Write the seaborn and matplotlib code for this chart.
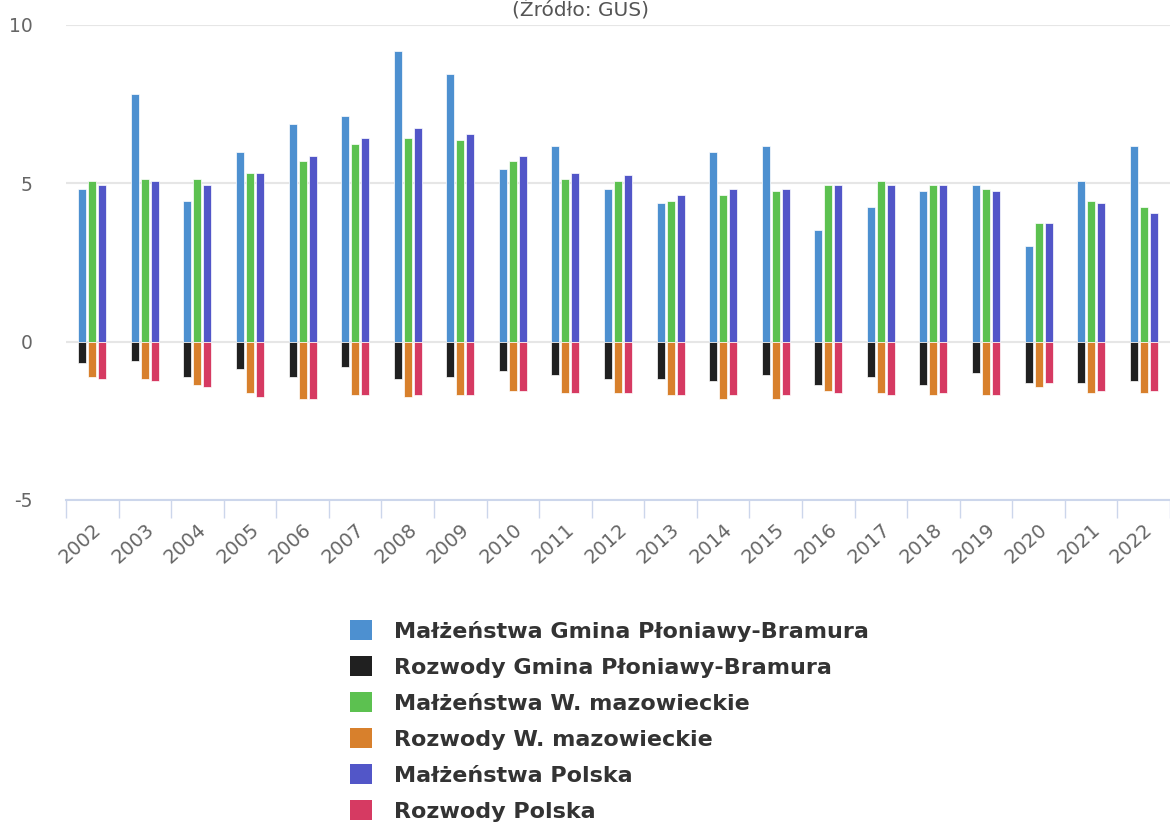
import numpy as np
import pandas as pd
import matplotlib
matplotlib.use("Agg")
import matplotlib.pyplot as plt
from matplotlib.patches import Patch
import seaborn as sns

# Wartości (na 1000 mieszkańców)
years = [str(y) for y in range(2002, 2023)]
malz_gmina = [4.82, 7.83, 4.44, 5.98, 6.87, 7.12, 9.17, 8.46, 5.46, 6.17, 4.82,
              4.37, 5.98, 6.17, 3.54, 4.25, 4.75, 4.94, 3.03, 5.07, 6.17]
rozw_gmina = [-0.68, -0.61, -1.12, -0.87, -1.12, -0.80, -1.18, -1.12, -0.93, -1.06, -1.18,
              -1.18, -1.25, -1.06, -1.37, -1.12, -1.37, -0.99, -1.31, -1.31, -1.25]
malz_woj = [5.07, 5.14, 5.14, 5.34, 5.72, 6.23, 6.42, 6.36, 5.72, 5.14, 5.07,
            4.44, 4.63, 4.75, 4.94, 5.07, 4.94, 4.82, 3.74, 4.44, 4.25]
rozw_woj = [-1.12, -1.18, -1.37, -1.63, -1.82, -1.69, -1.75, -1.69, -1.56, -1.63, -1.63,
            -1.69, -1.82, -1.82, -1.56, -1.63, -1.69, -1.69, -1.44, -1.63, -1.63]
malz_pl = [4.94, 5.07, 4.94, 5.34, 5.85, 6.42, 6.74, 6.55, 5.85, 5.34, 5.27,
           4.63, 4.82, 4.82, 4.94, 4.94, 4.94, 4.75, 3.74, 4.37, 4.06]
rozw_pl = [-1.18, -1.25, -1.44, -1.75, -1.82, -1.69, -1.69, -1.69, -1.56, -1.63, -1.63,
           -1.69, -1.69, -1.69, -1.63, -1.69, -1.63, -1.69, -1.31, -1.56, -1.56]

regions = ["Gmina Płoniawy-Bramura", "W. mazowieckie", "Polska"]
col_marriage = ["#4d90d0", "#5cc150", "#5256c8"]
col_divorce = ["#202020", "#d8802c", "#d63a62"]

df_m = pd.DataFrame({
    "rok": years * 3,
    "region": sum([[r] * len(years) for r in regions], []),
    "wartosc": malz_gmina + malz_woj + malz_pl,
})
df_r = pd.DataFrame({
    "rok": years * 3,
    "region": sum([[r] * len(years) for r in regions], []),
    "wartosc": rozw_gmina + rozw_woj + rozw_pl,
})

sns.set_style("white")
plt.rcParams['font.family'] = ['DejaVu Sans']

fig = plt.figure(figsize=(11.7, 8.24), dpi=100)
ax = fig.add_axes([66 / 1170, 1 - 500 / 824, 1 - 66 / 1170, 475 / 824])

sns.barplot(data=df_m, x="rok", y="wartosc", hue="region", palette=col_marriage,
            width=0.57, gap=0.2, edgecolor="white", linewidth=0.5,
            saturation=1, legend=False, ax=ax)
sns.barplot(data=df_r, x="rok", y="wartosc", hue="region", palette=col_divorce,
            width=0.57, gap=0.2, edgecolor="white", linewidth=0.5,
            saturation=1, legend=False, ax=ax)

ax.set_xlim(-0.5, len(years) - 0.5)
ax.set_ylim(-5, 10)
ax.set_yticks([-5, 0, 5, 10])
ax.set_yticklabels(["-5", "0", "5", "10"])
ax.set_xlabel("")
ax.set_ylabel("")
ax.set_axisbelow(True)
ax.grid(axis="y", color="#e6e6e6", linewidth=1.5)
ax.grid(axis="x", visible=False)

for s in ["top", "right", "left"]:
    ax.spines[s].set_visible(False)
ax.spines["bottom"].set_color("#ccd6eb")
ax.spines["bottom"].set_linewidth(1.5)

ax.tick_params(axis="y", length=0, pad=24, labelsize=13.5, labelcolor="#666666")
ax.set_xticks(range(len(years)))
ax.set_xticklabels(years, rotation=42, ha="right", rotation_mode="anchor")
ax.tick_params(axis="x", which="major", bottom=True, length=0, pad=14,
               labelsize=14, labelcolor="#666666")
ax.set_xticks(np.arange(-0.5, len(years), 1), minor=True)
ax.tick_params(axis="x", which="minor", bottom=True, length=13, width=1, color="#ccd6eb")

fig.text(0.496, 1 - 15 / 824, "(Źródło: GUS)", ha="center", va="baseline",
         fontsize=14.5, color="#555555")

handles = []
labels = []
for i, r in enumerate(regions):
    handles.append(Patch(facecolor=col_marriage[i], edgecolor="none"))
    labels.append("Małżeństwa " + r)
    handles.append(Patch(facecolor=col_divorce[i], edgecolor="none"))
    labels.append("Rozwody " + r)

fig.legend(handles, labels, loc="upper left", bbox_to_anchor=(350 / 1170, 1 - 620 / 824),
           frameon=False, prop={"weight": "bold", "size": 16}, labelcolor="#333333",
           handlelength=1.0, handleheight=1.0, handletextpad=1.0, labelspacing=0.65,
           borderpad=0, borderaxespad=0)

fig.savefig("out.png", dpi=100)
